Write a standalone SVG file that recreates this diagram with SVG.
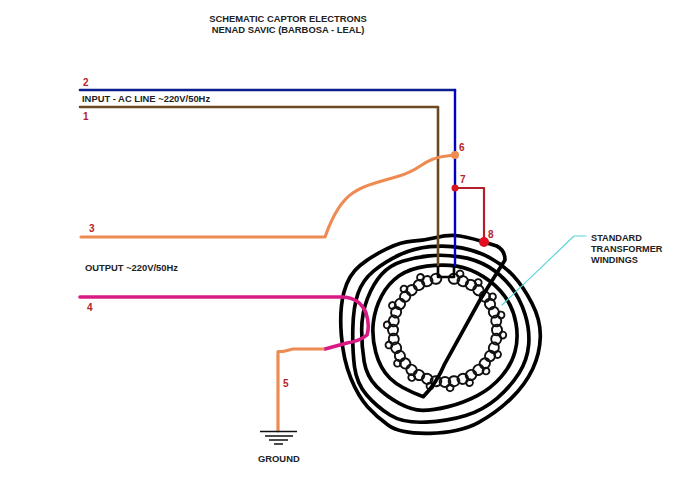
<svg xmlns="http://www.w3.org/2000/svg" width="690" height="486" viewBox="0 0 690 486">
<style>
text{font-family:"Liberation Sans",Arial,sans-serif;font-weight:bold;font-size:9.4px;fill:#222}
.n{fill:#b5222c;font-size:10px}
.w{fill:none;stroke-linejoin:round;stroke-linecap:round}
.k{fill:none;stroke:#000;stroke-linejoin:round;stroke-linecap:round}
.l{fill:none;stroke:#111;stroke-width:1.9}
</style>
<defs>
<ellipse id="a" class="l" rx="5.4" ry="5"/>
<circle id="b" class="l" r="3.4"/>
</defs>
<rect width="690" height="486" fill="#fff"/>
<g id="title">
<text x="288" y="21.6" text-anchor="middle">SCHEMATIC CAPTOR ELECTRONS</text>
<text x="288" y="33" text-anchor="middle">NENAD SAVIC (BARBOSA - LEAL)</text>
</g>
<g id="labels">
<text x="82" y="102">INPUT - AC LINE ~220V/50Hz</text>
<text x="85" y="271">OUTPUT ~220V/50Hz</text>
<text x="591" y="240.5" style="font-size:9.2px">STANDARD</text>
<text x="591" y="251.5" style="font-size:9.2px">TRANSFORMER</text>
<text x="591" y="262.5" style="font-size:9.2px">WINDINGS</text>
<text x="258" y="462">GROUND</text>
</g>
<g id="coil">
<g id="toroid">
<use href="#a" transform="rotate(10 445 330) translate(445 278)"/>
<use href="#a" transform="rotate(20 445 330) translate(445 278)"/><use href="#b" transform="rotate(15 445 330) translate(445 272)"/>
<use href="#a" transform="rotate(30 445 330) translate(445 278)"/><use href="#b" transform="rotate(35 445 330) translate(445 272)"/>
<use href="#a" transform="rotate(40 445 330) translate(445 278)"/>
<use href="#a" transform="rotate(50 445 330) translate(445 278)"/><use href="#b" transform="rotate(55 445 330) translate(445 272)"/>
<use href="#a" transform="rotate(60 445 330) translate(445 278)"/>
<use href="#a" transform="rotate(70 445 330) translate(445 278)"/><use href="#b" transform="rotate(75 445 330) translate(445 272)"/>
<use href="#a" transform="rotate(80 445 330) translate(445 278)"/>
<use href="#a" transform="rotate(90 445 330) translate(445 278)"/><use href="#b" transform="rotate(95 445 330) translate(445 272)"/>
<use href="#a" transform="rotate(100 445 330) translate(445 278)"/>
<use href="#a" transform="rotate(110 445 330) translate(445 278)"/><use href="#b" transform="rotate(115 445 330) translate(445 272)"/>
<use href="#a" transform="rotate(120 445 330) translate(445 278)"/>
<use href="#a" transform="rotate(130 445 330) translate(445 278)"/><use href="#b" transform="rotate(135 445 330) translate(445 272)"/>
<use href="#a" transform="rotate(140 445 330) translate(445 278)"/>
<use href="#a" transform="rotate(150 445 330) translate(445 278)"/><use href="#b" transform="rotate(155 445 330) translate(445 272)"/>
<use href="#a" transform="rotate(160 445 330) translate(445 278)"/>
<use href="#a" transform="rotate(170 445 330) translate(445 278)"/><use href="#b" transform="rotate(175 445 330) translate(445 272)"/>
<use href="#a" transform="rotate(180 445 330) translate(445 278)"/>
<use href="#a" transform="rotate(190 445 330) translate(445 278)"/><use href="#b" transform="rotate(195 445 330) translate(445 272)"/>
<use href="#a" transform="rotate(200 445 330) translate(445 278)"/>
<use href="#a" transform="rotate(210 445 330) translate(445 278)"/><use href="#b" transform="rotate(215 445 330) translate(445 272)"/>
<use href="#a" transform="rotate(220 445 330) translate(445 278)"/>
<use href="#a" transform="rotate(230 445 330) translate(445 278)"/><use href="#b" transform="rotate(235 445 330) translate(445 272)"/>
<use href="#a" transform="rotate(240 445 330) translate(445 278)"/>
<use href="#a" transform="rotate(250 445 330) translate(445 278)"/><use href="#b" transform="rotate(255 445 330) translate(445 272)"/>
<use href="#a" transform="rotate(260 445 330) translate(445 278)"/>
<use href="#a" transform="rotate(270 445 330) translate(445 278)"/><use href="#b" transform="rotate(275 445 330) translate(445 272)"/>
<use href="#a" transform="rotate(280 445 330) translate(445 278)"/>
<use href="#a" transform="rotate(290 445 330) translate(445 278)"/><use href="#b" transform="rotate(295 445 330) translate(445 272)"/>
<use href="#a" transform="rotate(300 445 330) translate(445 278)"/>
<use href="#a" transform="rotate(310 445 330) translate(445 278)"/><use href="#b" transform="rotate(315 445 330) translate(445 272)"/>
<use href="#a" transform="rotate(320 445 330) translate(445 278)"/>
<use href="#a" transform="rotate(330 445 330) translate(445 278)"/><use href="#b" transform="rotate(335 445 330) translate(445 272)"/>
<use href="#a" transform="rotate(340 445 330) translate(445 278)"/>
<use href="#a" transform="rotate(350 445 330) translate(445 278)"/>
</g>
<polyline class="k" stroke-width="2.6" points="438,265 438,277 454,277 454,265"/>
<path class="k" stroke-width="11" transform="translate(320 220) scale(.3333)" d="M490,65 L530,78 Q555,90 555,120 L480,240 L375,430 Q350,490 310,530 Q240,505 210,475 Q180,445 167.5,397.5 Q155,350 160,307.5 Q165,265 185,227.5 Q205,190 237.5,167.5 Q270,145 320,138.5 Q370,132 410,138.5 Q450,145 490,170 Q530,195 555,230 Q580,265 588,310 Q596,355 585,395 Q574,435 544,470 Q514,505 472,527 Q430,549 385,560 Q340,571 307.5,571 Q275,570 237.5,550 Q200,530 170,500 Q140,470 132.5,425 Q125,380 125,330 Q125,280 142.5,235 Q160,190 185,162.5 Q210,135 247.5,123.5 Q285,112 327.5,107.5 Q370,103 420,110.5 Q470,118 507.5,141.5 Q545,165 572.5,200 Q600,235 615,282.5 Q630,330 626,375 Q622,420 597,460 Q572,500 531,535 Q490,570 437.5,586.5 Q385,603 317.5,606.5 Q250,610 210,585 Q170,560 140,525 Q110,490 103.5,440 Q97,390 98.5,325 Q100,260 114,220 Q128,180 161.5,152.5 Q195,125 237.5,105 Q280,85 330,80 Q380,75 425,83.5 Q470,92 510,113.5 Q550,135 580,167.5 Q610,200 636,250 Q662,300 661,350 Q660,400 638,447 Q616,494 573,536 Q530,578 475,608 Q420,638 330,640 Q240,642 205,616 Q170,590 142.5,560 Q115,530 92.5,475 Q70,420 64,345 Q58,270 71.5,217.5 Q85,165 120,136.5 Q155,108 200,86.5 Q245,65 277.5,63.5 Q310,62 345,53.5 Q380,45 405,46.5 Q430,48 490,65"/>
</g>
<g id="connectors">
<polyline class="w" stroke="#0b1d8c" stroke-width="2.6" points="80,90 455,90"/>
<polyline class="w" stroke="#0000c4" stroke-width="2.4" points="455,90 455,265"/>
<polyline class="w" stroke="#6b4a22" stroke-width="2.6" points="80,107 438,107 438,265"/>
<path class="w" stroke="#ee8b52" stroke-width="3.2" d="M81 237H325Q331,220 338,209Q345,198 353.5,192.5Q362,187 373.5,183.5Q385,180 397.5,176.5Q410,173 421,165.5Q432,158 443,156.5L455,155"/>
<polyline class="w" stroke="#b4202a" stroke-width="2.2" points="455,188 484,188 484,242"/>
<path class="w" stroke="#d91a85" stroke-width="3.6" d="M80 297H343Q360,298 366,313Q370,325 367,335Q360,341 347,343L325,349"/>
<path class="w" stroke="#ee8b52" stroke-width="3.2" d="M323 349H293L283 351.5H278V431"/>
<polyline class="w" stroke="#5fd3dc" stroke-width="1.2" points="502,305 574,236 586,236"/>
</g>
<g id="node-6"><circle cx="455" cy="155" r="4" fill="#ee8b52"/><text class="n" x="459" y="151">6</text></g>
<g id="node-7"><circle cx="455" cy="188" r="3.5" fill="#d81420"/><text class="n" x="460" y="183">7</text></g>
<g id="node-8"><circle cx="484" cy="242" r="5" fill="#e01020"/><text class="n" x="488" y="238">8</text></g>
<g id="node-1"><text class="n" x="83" y="120">1</text></g>
<g id="node-2"><text class="n" x="83" y="86">2</text></g>
<g id="node-3"><text class="n" x="89" y="232">3</text></g>
<g id="node-4"><text class="n" x="87" y="311">4</text></g>
<g id="node-5"><text class="n" x="283" y="387">5</text></g>
<g id="ground">
<path d="M260 431.5H297M265 436H293M269 440H288M274 444H283" stroke="#111" stroke-width="1.6" fill="none"/>
</g>
</svg>
